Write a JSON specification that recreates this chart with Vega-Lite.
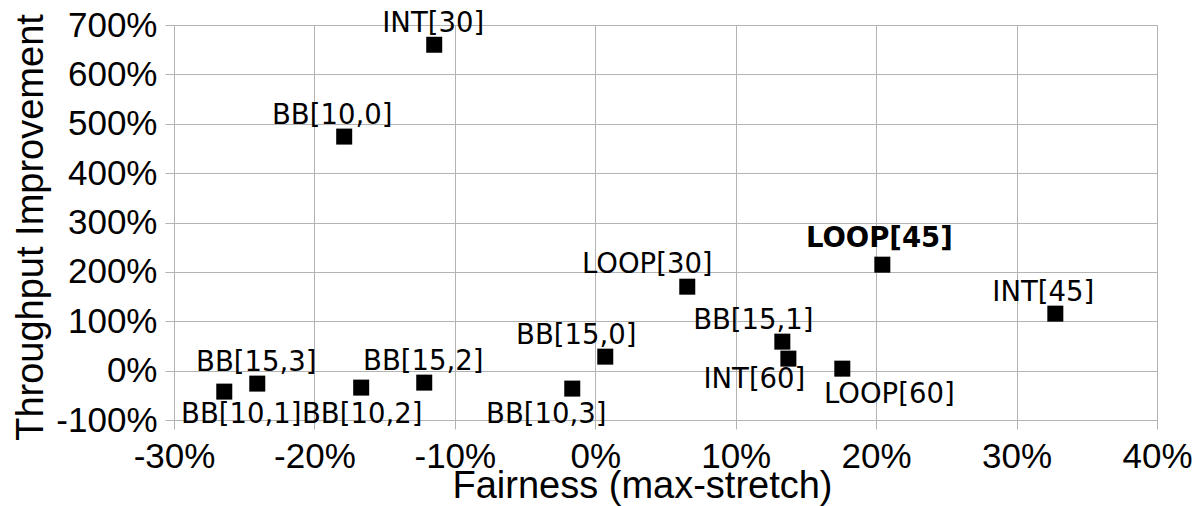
{
  "$schema": "https://vega.github.io/schema/vega-lite/v6.json",
  "width": 983,
  "height": 395,
  "autosize": {"type": "none"},
  "padding": {"left": 174, "top": 25, "right": 47, "bottom": 86},
  "background": "white",
  "config": {
    "view": {"stroke": null},
    "locale": {"number": {"decimal": ".", "thousands": ",", "grouping": [3], "currency": ["$", ""], "minus": "-"}}
  },
  "data": {
    "values": [
      {"name": "INT[30]", "fairness": -0.1147, "throughput": 6.60},
      {"name": "BB[10,0]", "fairness": -0.1788, "throughput": 4.74},
      {"name": "LOOP[45]", "fairness": 0.2044, "throughput": 2.146},
      {"name": "LOOP[30]", "fairness": 0.0655, "throughput": 1.70},
      {"name": "INT[45]", "fairness": 0.3276, "throughput": 1.154},
      {"name": "BB[15,1]", "fairness": 0.1332, "throughput": 0.587},
      {"name": "INT[60]", "fairness": 0.1375, "throughput": 0.243},
      {"name": "LOOP[60]", "fairness": 0.1759, "throughput": 0.04},
      {"name": "BB[15,0]", "fairness": 0.0071, "throughput": 0.283},
      {"name": "BB[10,3]", "fairness": -0.0164, "throughput": -0.364},
      {"name": "BB[15,2]", "fairness": -0.1218, "throughput": -0.243},
      {"name": "BB[10,2]", "fairness": -0.1667, "throughput": -0.344},
      {"name": "BB[15,3]", "fairness": -0.2407, "throughput": -0.263},
      {"name": "BB[10,1]", "fairness": -0.2642, "throughput": -0.425}
    ]
  },
  "encoding": {
    "x": {
      "field": "fairness",
      "type": "quantitative",
      "scale": {"domain": [-0.3, 0.4], "nice": false, "zero": false},
      "axis": {
        "title": "Fairness (max-stretch)",
        "values": [-0.3, -0.2, -0.1, 0, 0.1, 0.2, 0.3, 0.4],
        "format": ".0%",
        "labelFont": "Liberation Sans",
        "labelFontSize": 35,
        "labelColor": "black",
        "labelBaseline": "alphabetic",
        "labelPadding": 38,
        "labelFlush": false,
        "labelOverlap": false,
        "labelBound": false,
        "tickSize": 9,
        "tickColor": "#b3b3b3",
        "domainColor": "#b3b3b3",
        "gridColor": "#b3b3b3",
        "gridOpacity": 1,
        "titleFont": "Liberation Sans",
        "titleFontSize": 38,
        "titleFontWeight": "normal",
        "titleColor": "black",
        "titleX": 468,
        "titleY": 77,
        "titleBaseline": "alphabetic",
        "titleAlign": "center",
        "titleAnchor": null
      }
    },
    "y": {
      "field": "throughput",
      "type": "quantitative",
      "scale": {"domain": [-1, 7], "nice": false, "zero": false},
      "axis": {
        "title": "Throughput Improvement",
        "values": [-1, 0, 1, 2, 3, 4, 5, 6, 7],
        "format": ".0%",
        "labelFont": "Liberation Sans",
        "labelFontSize": 35,
        "labelColor": "black",
        "labelBaseline": "middle",
        "labelPadding": 8,
        "labelFlush": false,
        "labelOverlap": false,
        "labelBound": false,
        "tickSize": 9,
        "tickColor": "#b3b3b3",
        "domainColor": "#b3b3b3",
        "gridColor": "#b3b3b3",
        "gridOpacity": 1,
        "titleFont": "Liberation Sans",
        "titleFontSize": 38,
        "titleFontWeight": "normal",
        "titleColor": "black",
        "titleAngle": -90,
        "titleX": -132,
        "titleY": 202,
        "titleBaseline": "alphabetic",
        "titleAlign": "center",
        "titleAnchor": null
      }
    }
  },
  "layer": [
    {
      "mark": {"type": "point", "shape": "square", "filled": true, "size": 256, "color": "black", "opacity": 1, "strokeWidth": 0}
    },
    {
      "transform": [{"filter": {"field": "name", "oneOf": ["INT[30]", "BB[15,2]", "BB[15,3]"]}}],
      "mark": {"type": "text", "font": "DejaVu Sans", "fontSize": 27.5, "color": "black", "align": "center", "baseline": "alphabetic", "dx": -1, "dy": -13},
      "encoding": {"text": {"field": "name"}}
    },
    {
      "transform": [{"filter": {"field": "name", "oneOf": ["BB[10,0]", "INT[45]"]}}],
      "mark": {"type": "text", "font": "DejaVu Sans", "fontSize": 27.5, "color": "black", "align": "center", "baseline": "alphabetic", "dx": -12, "dy": -13},
      "encoding": {"text": {"field": "name"}}
    },
    {
      "transform": [{"filter": {"field": "name", "oneOf": ["BB[15,1]", "BB[15,0]"]}}],
      "mark": {"type": "text", "font": "DejaVu Sans", "fontSize": 27.5, "color": "black", "align": "center", "baseline": "alphabetic", "dx": -29, "dy": -13},
      "encoding": {"text": {"field": "name"}}
    },
    {
      "transform": [{"filter": {"field": "name", "oneOf": ["LOOP[30]"]}}],
      "mark": {"type": "text", "font": "DejaVu Sans", "fontSize": 27.5, "color": "black", "align": "center", "baseline": "alphabetic", "dx": -40, "dy": -14},
      "encoding": {"text": {"field": "name"}}
    },
    {
      "transform": [{"filter": {"field": "name", "oneOf": ["LOOP[45]"]}}],
      "mark": {"type": "text", "font": "DejaVu Sans", "fontSize": 27.5, "fontWeight": "bold", "color": "black", "align": "center", "baseline": "alphabetic", "dx": -3, "dy": -18},
      "encoding": {"text": {"field": "name"}}
    },
    {
      "transform": [{"filter": {"field": "name", "oneOf": ["BB[10,2]"]}}],
      "mark": {"type": "text", "font": "DejaVu Sans", "fontSize": 27.5, "color": "black", "align": "center", "baseline": "alphabetic", "dx": 1, "dy": 35},
      "encoding": {"text": {"field": "name"}}
    },
    {
      "transform": [{"filter": {"field": "name", "oneOf": ["INT[60]"]}}],
      "mark": {"type": "text", "font": "DejaVu Sans", "fontSize": 27.5, "color": "black", "align": "center", "baseline": "alphabetic", "dx": -34, "dy": 29},
      "encoding": {"text": {"field": "name"}}
    },
    {
      "transform": [{"filter": {"field": "name", "oneOf": ["BB[10,3]"]}}],
      "mark": {"type": "text", "font": "DejaVu Sans", "fontSize": 27.5, "color": "black", "align": "center", "baseline": "alphabetic", "dx": -26, "dy": 34},
      "encoding": {"text": {"field": "name"}}
    },
    {
      "transform": [{"filter": {"field": "name", "oneOf": ["BB[10,1]"]}}],
      "mark": {"type": "text", "font": "DejaVu Sans", "fontSize": 27.5, "color": "black", "align": "center", "baseline": "alphabetic", "dx": 17, "dy": 31},
      "encoding": {"text": {"field": "name"}}
    },
    {
      "transform": [{"filter": {"field": "name", "oneOf": ["LOOP[60]"]}}],
      "mark": {"type": "text", "font": "DejaVu Sans", "fontSize": 27.5, "color": "black", "align": "center", "baseline": "alphabetic", "dx": 47, "dy": 34},
      "encoding": {"text": {"field": "name"}}
    }
  ]
}
